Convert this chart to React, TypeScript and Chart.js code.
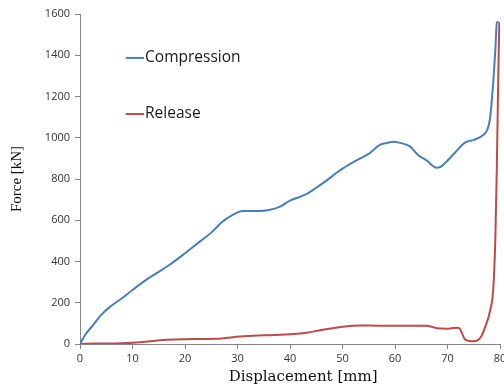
import React, { useEffect, useRef } from "react";
import { Chart, registerables } from "chart.js";

Chart.register(...registerables);

const xTicks = [0, 10, 20, 30, 40, 50, 60, 70, 80];
const yTicks = [0, 200, 400, 600, 800, 1000, 1200, 1400, 1600];

const compX = [0, 1, 2.5, 4, 5.7, 8, 10, 13, 15, 17, 20, 23, 25, 27, 29, 31, 34, 36, 38, 40, 43, 46, 50, 53, 55, 57.1, 58.5, 59.6, 61, 62.9, 64.4, 66, 67.9, 68.5, 69.8, 71.5, 73.3, 75, 76.8, 77.6, 78.1, 78.7, 79.1, 79.4, 79.7];
const compY = [0, 45, 92, 140, 180, 222, 262, 318, 350, 383, 440, 500, 540, 590, 625, 645, 645, 650, 665, 695, 725, 775, 850, 895, 922, 965, 975, 981, 975, 957, 916, 890, 855, 857, 884, 930, 976, 990, 1013, 1040, 1094, 1265, 1420, 1558, 1563];

const relX = [0, 3, 6, 10, 13, 15.2, 18, 22, 26, 28, 30.5, 35, 40.6, 43.2, 46, 50, 53.3, 57, 62, 66, 67, 68, 69.8, 71.7, 72.3, 72.8, 73.3, 74.2, 74.9, 75.8, 76.5, 77.1, 78.1, 78.7, 79.1, 79.4, 79.7, 79.87];
const relY = [0, 2, 2, 6, 12, 18, 22, 24, 25, 30, 36, 42, 48, 55, 68, 84, 90, 89, 89, 89, 84, 76, 74, 79, 76, 50, 23, 15, 13, 19, 40, 77, 160, 262, 500, 860, 1343, 1561];

const seriesNames = ["Compression", "Release"];
const colors = ["#4a7ebb", "#be4b48"];
const xTitle = "Displacement [mm]";
const yTitle = "Force [kN]";

const toPts = (xs: number[], ys: number[]) => xs.map((x, i) => ({ x, y: ys[i] }));

const legendPlugin = {
  id: "inlineLegend",
  afterDraw(chart: any) {
    const ctx = chart.ctx;
    const xs = chart.scales.x;
    const ys = chart.scales.y;
    const entries = [
      { label: seriesNames[0], color: colors[0], yv: 1387 },
      { label: seriesNames[1], color: colors[1], yv: 1115 },
    ];
    ctx.save();
    ctx.font = "15.5px 'Open Sans', sans-serif";
    ctx.textBaseline = "middle";
    for (const e of entries) {
      const py = ys.getPixelForValue(e.yv);
      const x0 = xs.getPixelForValue(8.7);
      const x1 = xs.getPixelForValue(12.2);
      ctx.strokeStyle = e.color;
      ctx.lineWidth = 2;
      ctx.beginPath();
      ctx.moveTo(x0, py);
      ctx.lineTo(x1, py);
      ctx.stroke();
      ctx.fillStyle = "#1a1a1a";
      ctx.fillText(e.label, x1 + 1, py);
    }
    // x axis title (slightly right of centre, as in the reference)
    ctx.font = "15px 'DejaVu Serif', serif";
    ctx.fillStyle = "#111";
    ctx.textAlign = "center";
    ctx.textBaseline = "middle";
    ctx.fillText(xTitle, xs.getPixelForValue(42.5), 377);
    ctx.restore();
  },
};

export default function App() {
  const ref = useRef<HTMLCanvasElement>(null);
  useEffect(() => {
    if (!ref.current) return;
    const chart = new Chart(ref.current, {
      type: "line",
      data: {
        datasets: [
          {
            label: seriesNames[0],
            data: toPts(compX, compY),
            borderColor: colors[0],
            backgroundColor: colors[0],
            borderWidth: 2,
            pointRadius: 0,
            cubicInterpolationMode: "monotone",
          },
          {
            label: seriesNames[1],
            data: toPts(relX, relY),
            borderColor: colors[1],
            backgroundColor: colors[1],
            borderWidth: 2,
            pointRadius: 0,
            cubicInterpolationMode: "monotone",
          },
        ],
      },
      options: {
        animation: false,
        responsive: false,
        layout: { padding: { top: 14, right: 4, left: 0, bottom: 0 } },
        plugins: { legend: { display: false }, tooltip: { enabled: false } },
        scales: {
          x: {
            type: "linear",
            min: 0,
            max: 80,
            afterBuildTicks: (s: any) => {
              s.ticks = xTicks.map((v) => ({ value: v }));
            },
            afterFit: (s: any) => {
              s.height = 45;
              s.paddingLeft = 0;
              s.paddingRight = 0;
            },
            grid: { display: true, drawOnChartArea: false, drawTicks: true, tickLength: 5, color: "#868686" },
            border: { color: "#868686" },
            ticks: { color: "#333", font: { family: "'Open Sans', sans-serif", size: 11 }, padding: 3, maxRotation: 0, callback: (v: any) => String(v) },
            title: { display: false, text: xTitle },
          },
          y: {
            type: "linear",
            min: 0,
            max: 1600,
            afterBuildTicks: (s: any) => {
              s.ticks = yTicks.map((v) => ({ value: v }));
            },
            afterFit: (s: any) => {
              s.width = 80;
              s.paddingTop = 0;
              s.paddingBottom = 0;
            },
            grid: { display: true, drawOnChartArea: false, drawTicks: true, tickLength: 5, color: "#868686" },
            border: { color: "#868686" },
            ticks: { color: "#333", font: { family: "'Open Sans', sans-serif", size: 11 }, padding: 5, callback: (v: any) => String(v) },
            title: {
              display: true,
              text: yTitle,
              color: "#111",
              font: { family: "'Liberation Serif', serif", size: 15 },
              padding: { top: 8, bottom: 4 },
            },
          },
        },
      },
      plugins: [legendPlugin],
    } as any);
    return () => chart.destroy();
  }, []);
  return (
    <div style={{ position: "fixed", left: 0, top: 0, width: 504, height: 389, background: "#fff" }}>
      <canvas ref={ref} width={504} height={389} style={{ width: 504, height: 389 }} />
    </div>
  );
}
